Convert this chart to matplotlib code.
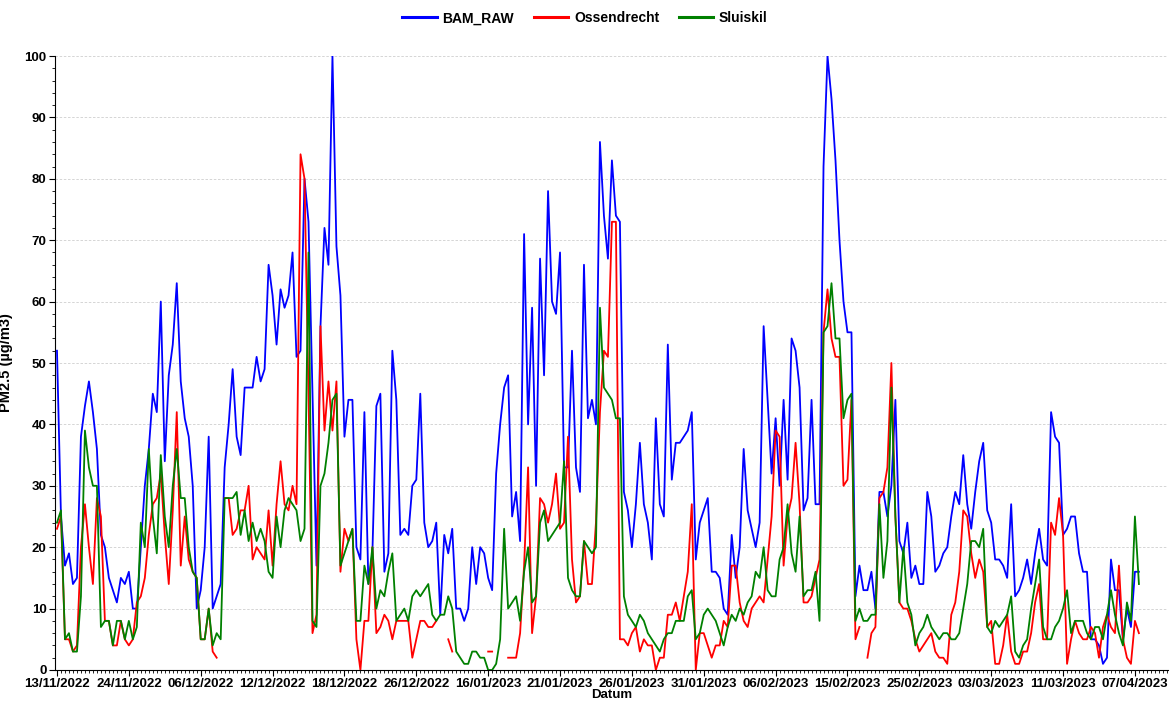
import numpy as np
import matplotlib
matplotlib.use("Agg")
import matplotlib.pyplot as plt
import matplotlib.ticker as ticker

nan = np.nan

# Tick labels on the x axis (one every 18 samples)
date_labels = ['13/11/2022', '24/11/2022', '06/12/2022', '12/12/2022', '18/12/2022',
               '26/12/2022', '16/01/2023', '21/01/2023', '26/01/2023', '31/01/2023',
               '06/02/2023', '15/02/2023', '25/02/2023', '03/03/2023', '11/03/2023',
               '07/04/2023']
label_step = 18

bam_raw = [52, 25, 17, 19, 14, 15, 38, 43, 47, 42, 36, 22, 20, 15, 13, 11, 15, 14, 16, 10, 10, 20, 30, 36, 45, 42, 60, 34, 48, 53, 63, 47, 41,
           38, 30, 10, 13, 20, 38, 10, 12, 14, 33, 40, 49, 38, 35, 46, 46, 46, 51, 47, 49, 66, 61, 53, 62, 59, 61, 68, 51, 52, 80, 73, 45, 17, 56, 72,
           66, 100, 69, 61, 38, 44, 44, 20, 18, 42, 14, 19, 43, 45, 16, 19, 52, 44, 22, 23, 22, 30, 31, 45, 24, 20, 21, 24, 9, 22, 19, 23, 10, 10, 8,
           10, 20, 14, 20, 19, 15, 13, 32, 40, 46, 48, 25, 29, 21, 71, 40, 59, 30, 67, 48, 78, 60, 58, 68, 33, 33, 52, 33, 29, 66, 41, 44, 40, 86, 74,
           67, 83, 74, 73, 29, 26, 20, 27, 37, 27, 24, 18, 41, 27, 25, 53, 31, 37, 37, 38, 39, 42, 18, 24, 26, 28, 16, 16, 15, 10, 9, 22, 15, 20, 36,
           26, 23, 20, 24, 56, 44, 32, 41, 30, 44, 31, 54, 52, 46, 26, 28, 44, 27, 27, 82, 100, 93, 83, 70, 60, 55, 55, 12, 17, 13, 13, 16, 10, 29, 29,
           25, 30, 44, 21, 19, 24, 15, 17, 14, 14, 29, 25, 16, 17, 19, 20, 25, 29, 27, 35, 27, 23, 29, 34, 37, 26, 24, 18, 18, 17, 15, 27, 12,
           13, 15, 18, 14, 19, 23, 18, 17, 42, 38, 37, 22, 23, 25, 25, 19, 16, 16, 5, 5, 4, 1, 2, 18, 13, 13, 5, 10, 7, 16, 16]

ossendrecht = [23, 25, 5, 5, 3, 4, 20, 27, 20, 14, 28, 25, 8, 8, 4, 4, 8, 5, 4, 5, 11, 12, 15, 22, 27, 28, 32, 22, 14, 26, 42, 17, 25,
               18, 16, 15, 5, 5, 10, 3, 2, nan, 28, 28, 22, 23, 26, 26, 30, 18, 20, 19, 18, 26, 17, 27, 34, 27, 26, 30, 27, 84, 80, 45, 6, 9, 56, 39,
               47, 39, 47, 16, 23, 21, 23, 5, 0, 8, 8, 20, 6, 7, 9, 8, 5, 8, 8, 8, 8, 2, 5, 8, 8, 7, 7, 8, nan, nan, 5, 3, nan, nan, nan,
               nan, nan, nan, nan, nan, 3, 3, nan, nan, nan, 2, 2, 2, 6, 17, 33, 6, 12, 28, 27, 24, 27, 32, 23, 24, 38, 18, 11, 12, 21, 14, 14, 24, 42, 52,
               51, 73, 73, 5, 5, 4, 6, 7, 3, 5, 4, 4, 0, 2, 2, 9, 9, 11, 8, 12, 16, 27, 0, 6, 6, 4, 2, 4, 4, 8, 7, 17, 17, 11, 8,
               7, 10, 11, 12, 11, 18, 25, 39, 38, 17, 25, 28, 37, 27, 11, 11, 12, 15, 18, 55, 62, 54, 51, 51, 30, 31, 44, 5, 7, nan, 2, 6, 7, 28, 29,
               33, 50, 25, 11, 10, 10, 8, 5, 3, 4, 5, 6, 3, 2, 2, 1, 9, 11, 16, 26, 25, 19, 15, 18, 16, 7, 8, 1, 1, 4, 9, 3, 1,
               1, 3, 3, 6, 11, 14, 5, 5, 24, 22, 28, 22, 1, 5, 8, 6, 5, 5, 7, 6, 2, 7, 9, 7, 6, 17, 5, 2, 1, 8, 6]

sluiskil = [24, 26, 5, 6, 3, 3, 12, 39, 33, 30, 30, 7, 8, 8, 4, 8, 8, 5, 8, 5, 7, 24, 20, 36, 25, 19, 35, 25, 20, 30, 36, 28, 28,
            20, 16, 15, 5, 5, 10, 4, 6, 5, 28, 28, 28, 29, 22, 26, 21, 24, 21, 23, 21, 16, 15, 25, 20, 26, 28, 27, 26, 21, 23, 68, 8, 7, 30, 32,
            37, 44, 45, 17, 19, 21, 23, 8, 8, 17, 14, 20, 10, 13, 12, 16, 19, 8, 9, 10, 8, 12, 13, 12, 13, 14, 9, 8, 9, 9, 12, 10, 3, 2, 1,
            1, 3, 3, 2, 2, 0, 0, 1, 5, 23, 10, 11, 12, 8, 16, 20, 11, 12, 24, 26, 21, 22, 23, 24, 34, 15, 13, 12, 12, 21, 20, 19, 20, 59, 46,
            45, 44, 41, 41, 12, 9, 8, 7, 9, 8, 6, 5, 4, 3, 5, 6, 6, 8, 8, 8, 12, 13, 5, 6, 9, 10, 9, 8, 6, 4, 7, 9, 8, 10, 9,
            11, 12, 16, 15, 20, 13, 12, 12, 18, 20, 27, 19, 16, 25, 12, 13, 13, 16, 8, 55, 56, 63, 54, 54, 41, 44, 45, 8, 10, 8, 8, 9, 9, 27, 15,
            21, 46, 25, 11, 20, 11, 9, 4, 6, 7, 9, 7, 6, 5, 6, 6, 5, 5, 6, 10, 14, 21, 21, 20, 23, 7, 6, 8, 7, 8, 9, 12, 3,
            2, 4, 5, 10, 14, 18, 7, 5, 5, 7, 8, 10, 13, 6, 8, 8, 8, 6, 5, 7, 7, 5, 9, 13, 9, 6, 4, 11, 8, 25, 14]

plt.rcParams['font.family'] = ['Liberation Sans', 'DejaVu Sans']
plt.rcParams['font.weight'] = 'bold'

fig = plt.figure(figsize=(11.7, 7.02), dpi=100)
ax = fig.add_axes([0.047, 0.0456, 0.951, 0.8746])

x = np.arange(len(bam_raw))
ax.plot(x, bam_raw, color='#0000ff', lw=1.3, label='BAM_RAW', zorder=3)
ax.plot(x, ossendrecht, color='#ff0000', lw=1.3, label='Ossendrecht', zorder=4)
ax.plot(x, sluiskil, color='#008000', lw=1.3, label='Sluiskil', zorder=5)

ax.set_xlim(-0.5, 278.2)
ax.set_ylim(0, 100)

ax.set_xticks(np.arange(len(date_labels)) * label_step)
ax.set_xticklabels(date_labels)
ax.xaxis.set_minor_locator(ticker.MultipleLocator(1))
ax.yaxis.set_major_locator(ticker.MultipleLocator(10))
ax.yaxis.set_minor_locator(ticker.MultipleLocator(2))
ax.tick_params(axis='both', which='major', labelsize=9.5, length=4, width=0.8, pad=2)
ax.tick_params(axis='both', which='minor', length=2, width=0.6)

ax.grid(axis='y', which='major', color='#cfcfcf', linestyle=(0, (3, 2)), lw=0.6)
ax.spines['top'].set_visible(False)
ax.spines['right'].set_visible(False)

ax.set_xlabel('Datum', fontsize=9.5, fontweight='bold')
ax.xaxis.set_label_coords(0.5, -0.031)
ax.set_ylabel('PM2.5 (µg/m3)', fontsize=10.5, fontweight='bold', labelpad=8)

fig.legend(loc='center', bbox_to_anchor=(0.5, 0.974), ncol=3, frameon=False,
           fontsize=10, handlelength=2.5, columnspacing=1.4, handletextpad=0.4)
for line in fig.legends[0].get_lines():
    line.set_linewidth(2.2)

fig.savefig('out.png', dpi=100)
